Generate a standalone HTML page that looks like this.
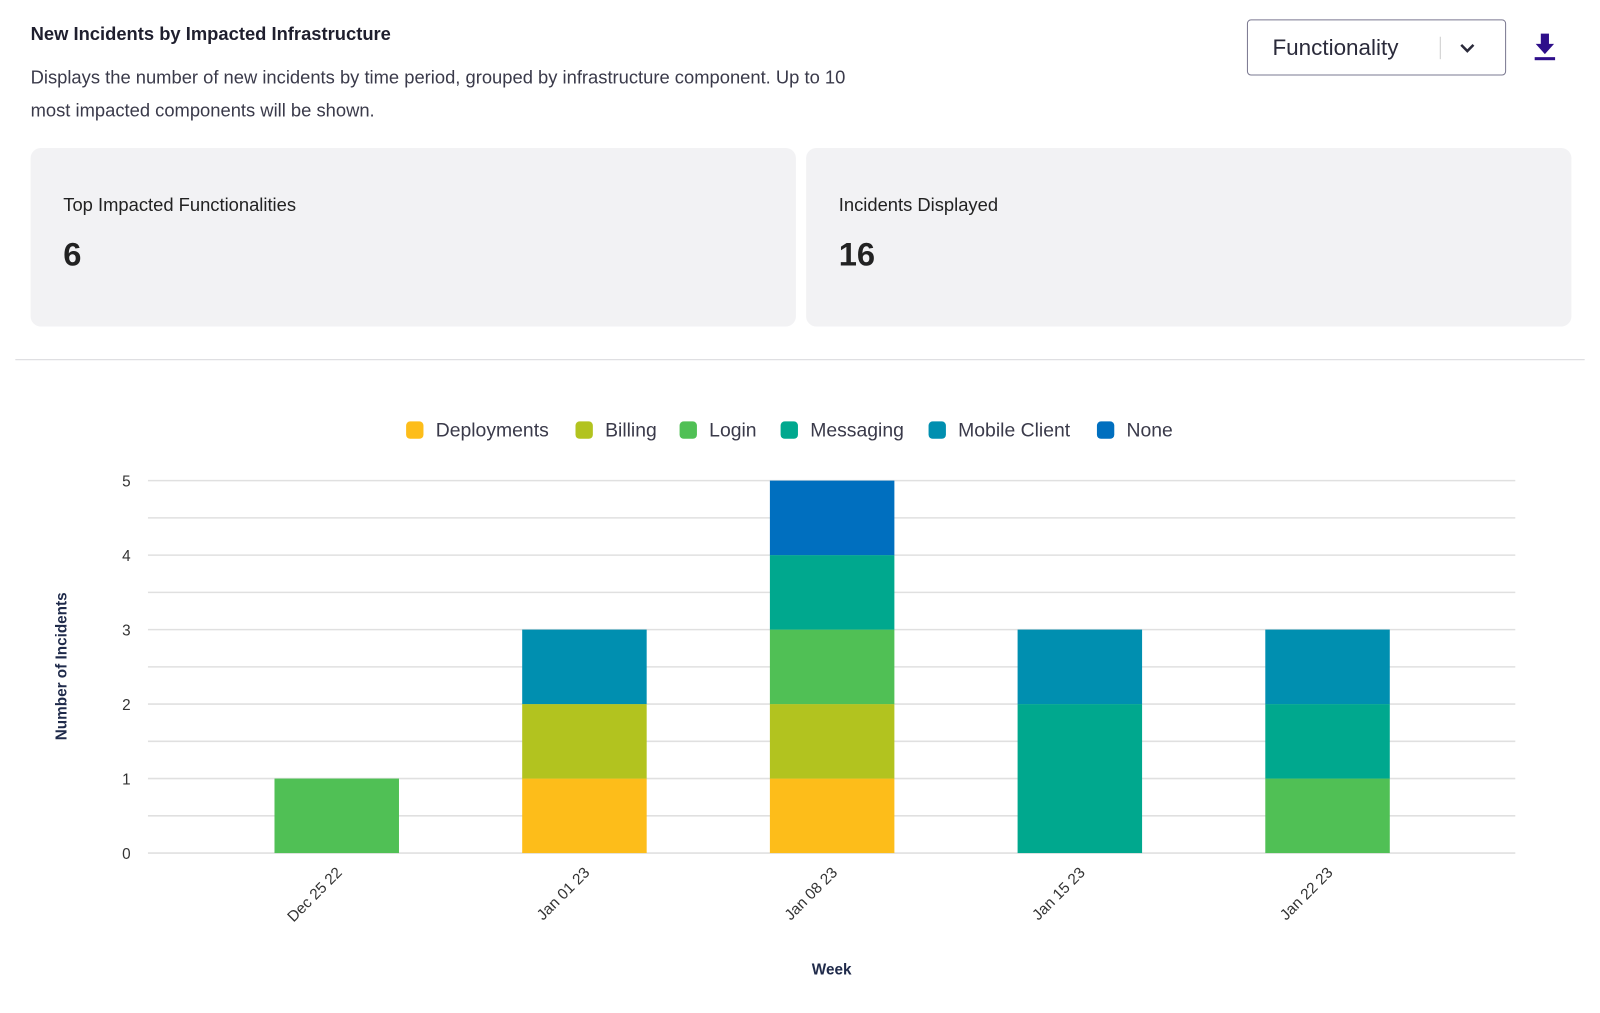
<!DOCTYPE html>
<html><head><meta charset="utf-8"><style>
body{margin:0;width:1600px;height:1013px;background:#fff;font-family:"Liberation Sans",sans-serif;color:#2a2a3a;position:relative;overflow:hidden}
#wrap{position:absolute;left:0;top:0;width:1568px;height:993px;transform:scale(1.0204);transform-origin:0 0}
.abs{position:absolute}
.card{position:absolute;top:145px;height:175px;background:#f2f2f4;border-radius:10px}
.card .t{position:absolute;left:32px;top:46px;font-size:18px;color:#222}
.card .v{position:absolute;left:32px;top:86px;font-size:32px;font-weight:bold;color:#222}
</style></head><body>
<div id="wrap">
<div class="abs" style="left:30px;top:23px;font-size:18px;font-weight:bold;color:#1f1f2e">New Incidents by Impacted Infrastructure</div>
<div class="abs" style="left:30px;top:60px;width:810px;font-size:18px;line-height:32px;color:#3a3a4a">Displays the number of new incidents by time period, grouped by infrastructure component. Up to 10 most impacted components will be shown.</div>
<div class="abs" style="left:1222px;top:19px;width:252px;height:53px;border:1.5px solid #7a7890;border-radius:4px;">
 <span class="abs" style="left:24px;top:14px;font-size:22px;color:#2a2a3a">Functionality</span>
 <span class="abs" style="left:188px;top:16px;width:1px;height:22px;background:#ccc"></span>
 <svg class="abs" style="left:206px;top:18px" width="18" height="18"><polyline points="3,6 9,12 15,6" fill="none" stroke="#2a2a3a" stroke-width="2.5"/></svg>
</div>
<svg class="abs" style="left:1502px;top:31px" width="24" height="30"><path d="M8 2h8v10h5l-9 10-9-10h5z" fill="#2e0f8a"/><rect x="2" y="25" width="20" height="3" fill="#2e0f8a"/></svg>
<div class="card" style="left:30px;width:750px"><div class="t">Top Impacted Functionalities</div><div class="v">6</div></div>
<div class="card" style="left:790px;width:750px"><div class="t">Incidents Displayed</div><div class="v">16</div></div>
<div class="abs" style="left:15px;top:352px;width:1538px;height:1px;background:#d8d8dc"></div>
<svg id="chart" class="abs" style="left:0;top:0" width="1568" height="993"></svg>
</div>
<script>
const categories=["Dec 25 22","Jan 01 23","Jan 08 23","Jan 15 23","Jan 22 23"];
const seriesNames=["Deployments","Billing","Login","Messaging","Mobile Client","None"];
const seriesColors=["#fdbd1a","#b2c31f","#50c055","#00a88e","#008fb0","#006fbf"];
const deployments=[0,1,1,0,0];
const billing=[0,1,1,0,0];
const login=[1,0,1,0,1];
const messaging=[0,0,1,2,1];
const mobileClient=[0,1,0,1,1];
const none=[0,0,1,0,0];
const yTicks=[0,1,2,3,4,5];
const series=[deployments,billing,login,messaging,mobileClient,none];
const svg=document.getElementById('chart');const NS='http://www.w3.org/2000/svg';
const X0=145,X1=1485,Y0=836,Y1=471,yMax=5;
const y=v=>Y0-(v/yMax)*(Y0-Y1);
const x=i=>330+i*242.75;
function mk(t,a,txt){const e=document.createElementNS(NS,t);for(const k in a)e.setAttribute(k,a[k]);if(txt!=null)e.textContent=txt;svg.appendChild(e);return e;}
for(let v=0;v<=yMax;v+=0.5){
 const g=mk('line',{x1:X0,x2:X1,y1:y(v),y2:y(v),stroke:'#e0e0e0','stroke-width':1.5});
 
 
}
yTicks.forEach(v=>{const t=mk('text',{x:128,y:y(v)+6,'text-anchor':'end','font-size':15,fill:'#333','font-family':'Liberation Sans'},v);
 
 });
categories.forEach((c,i)=>{let base=0;
 series.forEach((s,j)=>{if(s[i]>0){const r=mk('rect',{x:x(i)-61,width:122,y:y(base+s[i]),height:y(base)-y(base+s[i]),fill:seriesColors[j]});
  
  
  base+=s[i];}});
 const t=mk('text',{x:x(i)+6,y:856,'text-anchor':'end','font-size':15,fill:'#333','font-family':'Liberation Sans',transform:`rotate(-45 ${x(i)+6} 856)`},c);
 
 
});
const yt=mk('text',{x:65,y:653,'text-anchor':'middle','font-size':15,'font-weight':'bold',fill:'#1f2a4a','font-family':'Liberation Sans',transform:'rotate(-90 65 653)'},'Number of Incidents');


const xt=mk('text',{x:815,y:955,'text-anchor':'middle','font-size':15,'font-weight':'bold',fill:'#1f2a4a','font-family':'Liberation Sans'},'Week');


const lx=[398,564,666,765,910,1075];
seriesNames.forEach((n,j)=>{
 const r=mk('rect',{x:lx[j],y:413,width:17,height:17,rx:4,fill:seriesColors[j]});
 
 
 const t=mk('text',{x:lx[j]+29,y:428,'font-size':19,fill:'#3a3a4a','font-family':'Liberation Sans'},n);
 
 
});
</script>
</body></html>
